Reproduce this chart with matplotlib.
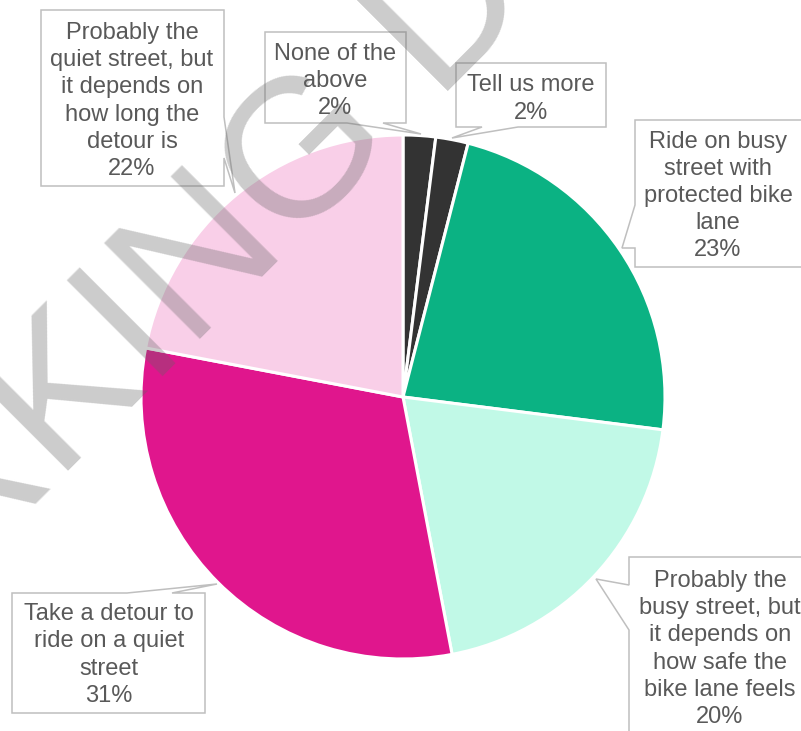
import matplotlib.pyplot as plt
from matplotlib.patches import Polygon

# slices, clockwise from 12 o'clock
labels = [
    "None of the\nabove",
    "Tell us more",
    "Ride on busy\nstreet with\nprotected bike\nlane",
    "Probably the\nbusy street, but\nit depends on\nhow safe the\nbike lane feels",
    "Take a detour to\nride on a quiet\nstreet",
    "Probably the\nquiet street, but\nit depends on\nhow long the\ndetour is",
]
shares = [2, 2, 23, 20, 31, 22]
colors = ["#333333", "#333333", "#0BB283", "#C1F9E7", "#E0168D", "#F9CFE8"]

W, H = 801, 731


def Y(y):
    return H - y


fig = plt.figure(figsize=(W / 100, H / 100), dpi=100)
ax = fig.add_axes([0, 0, 1, 1])

ax.pie(shares, colors=colors, startangle=90, counterclock=False,
       center=(403, Y(397)), radius=262,
       wedgeprops=dict(edgecolor="white", linewidth=2.2))
ax.set_xlim(0, W)
ax.set_ylim(0, H)
ax.set_aspect("auto")
ax.axis("off")

# callout outlines (pixel coords from top-left) and text centres
callouts = [
    [(265, 32), (406, 32), (406, 123), (383, 123), (421, 134), (347, 123), (265, 123)],
    [(456, 63), (606, 63), (606, 127), (518, 127), (452, 138), (482, 127), (456, 127)],
    [(635, 120), (830, 120), (830, 267), (635, 267), (635, 248), (622, 248), (635, 205)],
    [(629, 557), (830, 557), (830, 760), (629, 760), (629, 630), (596, 579), (629, 585)],
    [(12, 593), (127, 593), (217, 584), (172, 593), (205, 593), (205, 713), (12, 713)],
    [(41, 10), (224, 10), (224, 117), (235, 193), (224, 158), (224, 186), (41, 186)],
]
text_pos = [(335, 81), (531, 99), (718, 196), (720, 649), (109, 655), (132, 101)]

for lab, v, pts, (tx, ty) in zip(labels, shares, callouts, text_pos):
    poly = Polygon([(x, Y(y)) for x, y in pts], closed=True, facecolor="white",
                   edgecolor="#BFBFBF", linewidth=1.1, zorder=3)
    ax.add_patch(poly)
    ax.text(tx, Y(ty), f"{lab}\n{v}%", ha="center", va="center",
            fontsize=17, color="#595959", family="Liberation Sans",
            linespacing=1.3, zorder=4)

# watermark
ax.text(309, Y(230), "WORKING DRAFT", rotation=45, rotation_mode="anchor",
        ha="center", va="baseline", fontsize=142, family="Liberation Sans",
        color="#646464", alpha=0.33, zorder=10)

plt.savefig("out.png", dpi=100)
